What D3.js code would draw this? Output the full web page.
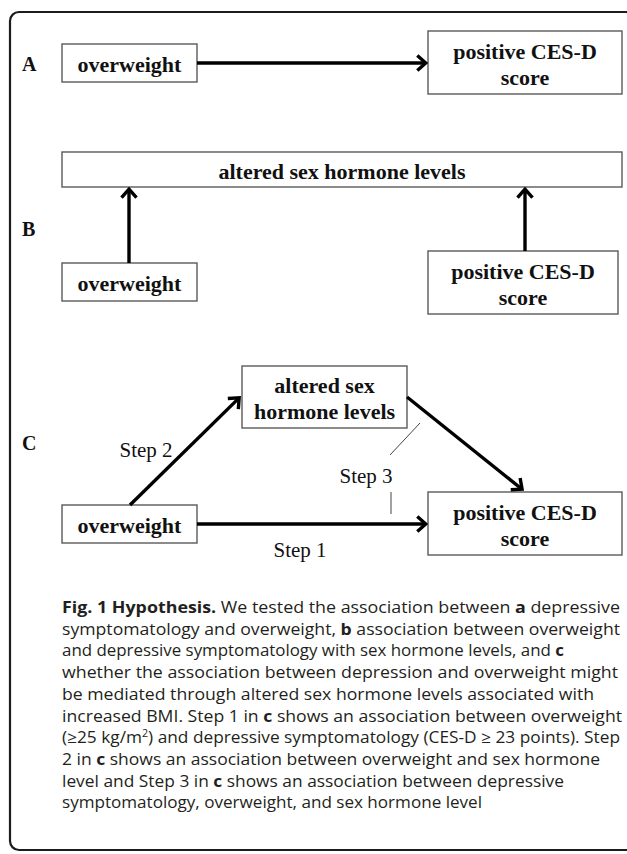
<!DOCTYPE html>
<html>
<head>
<meta charset="utf-8">
<script src="https://cdn.jsdelivr.net/npm/d3@7"></script>
<style>
  html, body { margin: 0; padding: 0; background: #fff; }
  svg { display: block; }
</style>
</head>
<body>
<div id="chart"></div>
<script>
// ---------- content ----------
const panelLabels = ["A", "B", "C"];
const nodeLabels = {
  overweight: ["overweight"],
  cesd: ["positive CES-D", "score"],
  hormoneWide: ["altered sex hormone levels"],
  hormone: ["altered sex", "hormone levels"]
};
const stepLabels = ["Step 1", "Step 2", "Step 3"];
const captionLines = [
  [["Fig. 1 Hypothesis.", true], [" We tested the association between ", false], ["a", true], [" depressive", false]],
  [["symptomatology and overweight, ", false], ["b", true], [" association between overweight", false]],
  [["and depressive symptomatology with sex hormone levels, and ", false], ["c", true]],
  [["whether the association between depression and overweight might", false]],
  [["be mediated through altered sex hormone levels associated with", false]],
  [["increased BMI. Step 1 in ", false], ["c", true], [" shows an association between overweight", false]],
  [["(≥25 kg/m", false], ["2", false, "sup"], [") and depressive symptomatology (CES-D ≥ 23 points). Step", false, "after"]],
  [["2 in ", false], ["c", true], [" shows an association between overweight and sex hormone", false]],
  [["level and Step 3 in ", false], ["c", true], [" shows an association between depressive", false]],
  [["symptomatology, overweight, and sex hormone level", false]]
];
// right end of each caption line (px)
const captionLineEnds = [620, 620, 564, 618, 594, 622, 620, 600, 564, 482];

// ---------- layout ----------
const W = 627, H = 854;
const svg = d3.select("#chart").append("svg").attr("width", W).attr("height", H);

const defs = svg.append("defs");
defs.append("marker")
  .attr("id", "head")
  .attr("markerUnits", "userSpaceOnUse")
  .attr("viewBox", "-12 -10 14 20")
  .attr("refX", 0).attr("refY", 0)
  .attr("markerWidth", 14).attr("markerHeight", 20)
  .attr("orient", "auto")
  .append("path")
  .attr("d", "M-8.5,-7.5 L0,0 L-8.5,7.5")
  .attr("fill", "none").attr("stroke", "#000")
  .attr("stroke-width", 3.4)
  .attr("stroke-linejoin", "miter").attr("stroke-linecap", "butt");

// outer rounded frame
svg.append("rect")
  .attr("x", 10).attr("y", 12).attr("width", 625).attr("height", 838)
  .attr("rx", 9).attr("ry", 9)
  .attr("fill", "none").attr("stroke", "#1c1c1c").attr("stroke-width", 2.2);

// nodes (pixel boxes)
const nodes = [
  { key: "overweight", x0: 62, x1: 197, y0: 44, y1: 82 },
  { key: "cesd", x0: 428, x1: 622, y0: 31, y1: 94 },
  { key: "hormoneWide", x0: 62, x1: 622, y0: 152, y1: 187 },
  { key: "overweight", x0: 62, x1: 197, y0: 263, y1: 301 },
  { key: "cesd", x0: 428, x1: 618, y0: 251, y1: 314 },
  { key: "hormone", x0: 242, x1: 407, y0: 366, y1: 428 },
  { key: "overweight", x0: 62, x1: 197, y0: 505, y1: 543 },
  { key: "cesd", x0: 428, x1: 622, y0: 492, y1: 555 }
];

const boxFont = "'Liberation Serif','Times New Roman',serif";
const ng = svg.append("g");
nodes.forEach(n => {
  ng.append("rect")
    .attr("x", n.x0).attr("y", n.y0)
    .attr("width", n.x1 - n.x0).attr("height", n.y1 - n.y0)
    .attr("fill", "#fff").attr("stroke", "#5a5a5a").attr("stroke-width", 1.4);
  const lines = nodeLabels[n.key];
  const cx = (n.x0 + n.x1) / 2, cy = (n.y0 + n.y1) / 2 + 1.5;
  const lh = 26;
  lines.forEach((t, i) => {
    ng.append("text")
      .attr("x", cx)
      .attr("y", cy + (i - (lines.length - 1) / 2) * lh)
      .attr("text-anchor", "middle")
      .attr("dominant-baseline", "central")
      .attr("font-family", boxFont)
      .attr("font-weight", "bold")
      .attr("font-size", 22)
      .attr("fill", "#111")
      .text(t);
  });
});

// panel letters
const panelY = [64, 229, 443];
panelLabels.forEach((p, i) => {
  svg.append("text")
    .attr("x", 22).attr("y", panelY[i])
    .attr("dominant-baseline", "central")
    .attr("font-family", boxFont).attr("font-weight", "bold")
    .attr("font-size", 20).attr("fill", "#111")
    .text(p);
});

// arrows
const arrows = [
  [197, 63, 427, 63],
  [129, 263, 129, 188],
  [525, 251, 525, 188],
  [130, 505, 240, 397],
  [407, 397, 523, 490],
  [197, 524, 427, 524]
];
const line = d3.line();
arrows.forEach(a => {
  const dx = a[2] - a[0], dy = a[3] - a[1];
  const len = Math.hypot(dx, dy);
  const sh = 1.2;
  svg.append("path")
    .attr("d", line([[a[0], a[1]], [a[2] - dx / len * sh, a[3] - dy / len * sh]]))
    .attr("stroke", "#000").attr("stroke-width", 3.4).attr("fill", "none")
    .attr("marker-end", "url(#head)");
});

// thin step-3 connector lines
[[420, 423, 390, 455], [391, 492, 391, 514]].forEach(l => {
  svg.append("path")
    .attr("d", line([[l[0], l[1]], [l[2], l[3]]]))
    .attr("stroke", "#444").attr("stroke-width", 1).attr("fill", "none");
});

// step labels
const stepPos = [[300, 550], [146, 450], [366, 476]];
stepLabels.forEach((s, i) => {
  svg.append("text")
    .attr("x", stepPos[i][0]).attr("y", stepPos[i][1])
    .attr("text-anchor", "middle").attr("dominant-baseline", "central")
    .attr("font-family", boxFont).attr("font-size", 21).attr("fill", "#111")
    .text(s);
});

// caption
const capFont = "'Open Sans', 'Noto Sans', sans-serif";
const capX = 62;
const capFs = 16;
const capG = svg.append("g");
captionLines.forEach((segs, i) => {
  const t = capG.append("text")
    .attr("x", capX).attr("y", 613 + i * 21.7)
    .attr("font-family", capFont).attr("font-size", capFs)
    .attr("fill", "#231f20")
    .attr("textLength", captionLineEnds[i] - capX)
    .attr("lengthAdjust", "spacingAndGlyphs");
  segs.forEach(s => {
    const ts = t.append("tspan").text(s[0])
      .attr("font-weight", s[1] ? 700 : 400);
    if (s[2] === "sup") ts.attr("font-size", capFs * 0.62).attr("dy", -capFs * 0.38);
    if (s[2] === "after") ts.attr("dy", capFs * 0.38);
  });
});
</script>
</body>
</html>
